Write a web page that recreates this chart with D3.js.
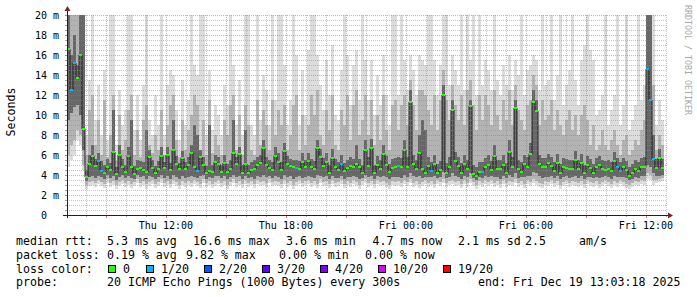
<!DOCTYPE html>
<html>
<head>
<meta charset="utf-8">
<script src="https://cdn.jsdelivr.net/npm/d3@7"></script>
<style>
  body { margin: 0; background: #fff; }
  svg { display: block; }
  text { font-family: "DejaVu Sans Mono", monospace; fill: #000; }
</style>
</head>
<body>
<svg id="chart" width="697" height="297"></svg>
<script>
// time window of the graph (9 minute bins)
const startTime = Date.UTC(2025, 11, 18, 7, 3, 18);
const endTime = Date.UTC(2025, 11, 19, 13, 3, 18);
const binMinutes = 9;

// median rtt per bin (ms)
const median = [
  16.6,12.5,15.2,13.7,16.0,8.6,3.8,5.1,5.9,4.9,
  5.4,4.4,4.2,4.8,4.5,6.3,4.1,6.0,4.8,4.3,
  5.9,4.8,4.1,4.6,4.7,4.5,4.3,5.8,4.7,4.2,
  4.6,5.9,4.7,6.0,4.5,6.5,5.1,4.6,5.7,4.6,
  5.0,6.2,4.8,4.4,5.8,5.0,4.2,4.4,4.3,5.3,
  5.1,4.3,5.2,4.3,4.6,6.2,5.1,6.1,4.2,5.1,
  4.2,4.5,4.6,5.0,5.2,6.7,5.0,4.7,4.5,5.9,
  5.3,4.5,6.4,5.1,4.9,4.8,4.7,4.6,5.3,4.8,
  5.4,4.8,4.6,6.7,5.8,4.9,5.3,4.2,5.7,4.8,
  4.5,5.1,4.4,4.7,4.9,4.8,5.1,4.8,4.2,6.5,
  4.9,6.7,4.2,5.0,4.6,6.1,5.0,4.3,4.7,4.8,
  4.9,4.8,6.5,4.8,11.3,5.1,4.6,6.2,4.6,4.2,
  4.9,4.4,5.1,4.2,4.5,12.0,4.2,4.8,10.5,5.4,
  4.9,4.2,5.1,4.6,10.9,4.1,3.9,4.3,4.3,4.8,
  5.0,4.5,5.9,4.6,4.6,5.0,4.2,6.3,4.8,10.7,
  4.6,4.3,5.1,4.8,6.1,11.3,10.4,5.1,4.8,4.8,
  5.2,4.9,4.4,5.2,4.2,4.8,4.7,4.6,4.6,5.5,
  4.6,5.2,4.2,5.0,4.7,4.2,4.8,5.0,4.6,4.5,
  4.6,4.4,5.4,4.8,4.4,4.8,4.5,3.9,4.2,4.6,
  4.4,4.8,4.8,14.6,11.5,5.6,4.7,5.7,4.7,null
];

// smoke per bin (ms): fastest ping, 10th pct, lower quartile, upper quartile, 90th pct, slowest ping
const pingMin = [
  4.8,5.5,6.0,7.5,7.0,4.5,2.6,2.9,3.0,2.8,
  3.1,2.9,2.7,3.2,2.8,3.0,2.6,2.9,3.1,2.8,
  3.0,2.7,2.9,3.2,2.8,3.0,2.6,2.9,3.1,2.7,
  2.9,3.2,2.8,3.0,2.7,3.1,2.9,2.6,3.0,2.8,
  3.0,2.8,3.1,2.9,2.7,3.2,2.8,3.0,2.7,2.9,
  3.1,2.8,3.0,2.6,2.9,3.2,2.8,3.0,2.7,3.1,
  2.8,3.0,2.7,3.1,2.9,3.0,2.8,3.2,2.9,3.0,
  2.9,2.7,3.1,2.8,3.0,2.6,2.9,3.1,2.8,3.0,
  3.1,2.8,3.0,2.7,3.2,2.9,3.0,2.7,3.1,2.8,
  2.9,3.1,2.7,3.0,2.8,3.1,2.9,2.6,3.0,3.2,
  2.8,3.0,2.7,3.1,2.9,3.0,2.8,2.6,3.0,2.9,
  3.0,2.8,3.1,2.9,3.2,2.8,3.0,2.7,2.9,3.1,
  2.8,3.0,2.7,3.1,2.9,3.2,2.8,3.0,3.1,2.9,
  3.0,2.7,3.1,2.8,3.2,2.9,2.6,3.0,2.8,3.1,
  2.9,3.1,2.8,3.0,2.7,3.1,2.8,3.0,2.9,3.2,
  2.8,3.0,2.7,3.1,2.9,3.2,3.0,2.8,2.7,3.0,
  2.9,3.1,2.8,3.0,2.6,2.9,3.1,2.8,3.0,2.9,
  2.8,3.0,2.7,3.1,2.9,2.8,3.0,2.7,2.9,3.1,
  2.9,2.7,3.0,2.8,3.1,2.9,2.7,2.6,2.8,3.0,
  2.9,3.1,3.0,3.6,3.5,3.0,3.2,3.3,3.4,null
];
const pingP10 = [
  6.0,7.0,7.5,8.5,8.0,5.0,3.0,3.3,3.4,3.2,
  3.5,3.3,3.1,3.6,3.2,3.4,3.0,3.3,3.5,3.2,
  3.4,3.1,3.3,3.6,3.2,3.4,3.1,3.3,3.5,3.1,
  3.3,3.6,3.2,3.4,3.1,3.5,3.3,3.0,3.4,3.2,
  3.4,3.2,3.5,3.3,3.1,3.6,3.2,3.4,3.1,3.3,
  3.5,3.2,3.4,3.0,3.3,3.6,3.2,3.4,3.1,3.5,
  3.2,3.4,3.1,3.5,3.3,3.4,3.2,3.6,3.3,3.4,
  3.3,3.1,3.5,3.2,3.4,3.0,3.3,3.5,3.2,3.4,
  3.5,3.2,3.4,3.1,3.6,3.3,3.4,3.1,3.5,3.2,
  3.3,3.5,3.1,3.4,3.2,3.5,3.3,3.0,3.4,3.6,
  3.2,3.4,3.1,3.5,3.3,3.4,3.2,3.0,3.4,3.3,
  3.4,3.2,3.5,3.3,3.6,3.2,3.4,3.1,3.3,3.5,
  3.2,3.4,3.1,3.5,3.3,3.6,3.2,3.4,3.5,3.3,
  3.4,3.1,3.5,3.2,3.6,3.3,3.0,3.4,3.2,3.5,
  3.3,3.5,3.2,3.4,3.1,3.5,3.2,3.4,3.3,3.6,
  3.2,3.4,3.1,3.5,3.3,3.6,3.4,3.2,3.1,3.4,
  3.3,3.5,3.2,3.4,3.0,3.3,3.5,3.2,3.4,3.3,
  3.2,3.4,3.1,3.5,3.3,3.2,3.4,3.1,3.3,3.5,
  3.3,3.1,3.4,3.2,3.5,3.3,3.1,3.0,3.2,3.4,
  3.3,3.5,3.4,4.2,4.0,3.5,3.5,3.6,3.7,null
];
const pingQ1 = [
  9.5,10.2,10.8,11.0,10.0,6.5,3.4,3.8,3.9,3.7,
  3.9,3.8,3.6,4.0,3.7,3.9,3.5,3.8,4.0,3.7,
  3.9,3.7,3.6,4.0,3.8,3.9,3.6,3.9,3.8,3.6,
  3.8,4.0,3.7,3.9,3.6,4.0,3.8,3.6,3.9,3.7,
  3.8,3.9,3.8,3.7,3.9,4.0,3.6,3.8,3.7,3.9,
  3.9,3.7,3.9,3.6,3.8,4.0,3.8,3.9,3.6,3.9,
  3.7,3.8,3.6,3.9,3.8,4.0,3.8,3.9,3.7,3.9,
  3.8,3.6,4.0,3.8,3.9,3.6,3.8,3.9,3.7,3.8,
  3.9,3.8,3.7,4.0,3.9,3.8,3.9,3.6,3.9,3.7,
  3.7,3.9,3.6,3.8,3.8,3.9,3.8,3.6,3.7,4.0,
  3.8,3.9,3.6,3.9,3.8,3.9,3.8,3.6,3.8,3.8,
  3.8,3.7,4.0,3.8,4.2,3.9,3.8,3.9,3.7,3.8,
  3.8,3.8,3.9,3.7,3.8,4.3,3.7,3.8,4.2,3.9,
  3.8,3.6,3.9,3.8,4.2,3.7,3.5,3.8,3.7,3.9,
  3.8,3.9,3.8,3.8,3.6,3.9,3.7,4.0,3.8,4.2,
  3.7,3.8,3.8,3.9,3.9,4.3,4.2,3.9,3.7,3.8,
  3.8,3.9,3.7,3.9,3.6,3.8,3.9,3.7,3.8,3.9,
  3.7,3.9,3.6,3.8,3.8,3.7,3.8,3.7,3.8,3.9,
  3.8,3.6,3.9,3.8,3.8,3.8,3.7,3.5,3.6,3.8,
  3.7,3.9,3.9,5.0,4.8,4.2,3.9,3.9,4.0,null
];
const pingQ3 = [
  20,16,18,15,20,20,4.5,6.0,7.0,5.6,
  6.2,5.4,5.0,5.6,5.2,10.5,4.8,7.0,5.6,5.0,
  6.8,9.5,4.9,5.5,5.4,5.3,8.5,6.5,5.5,4.9,
  5.4,6.8,5.3,6.8,5.2,9.5,5.9,5.2,6.4,5.3,
  5.8,7.0,9.0,8.0,6.5,5.8,4.9,9.0,5.0,6.0,
  5.8,5.0,6.0,5.1,5.5,9.5,5.8,6.8,5.0,8.5,
  5.0,5.3,5.5,5.8,6.0,7.5,5.8,5.5,5.3,6.8,
  6.2,5.3,7.2,5.9,5.6,5.5,5.5,5.4,6.2,5.5,
  6.2,5.6,5.4,7.5,6.6,5.7,6.2,5.0,6.6,5.6,
  5.3,6.0,5.2,5.5,5.8,5.6,7.0,5.6,5.0,7.5,
  5.8,7.6,5.0,5.9,5.5,7.0,5.9,5.1,5.6,5.7,
  5.8,5.7,7.5,5.8,12.5,6.0,5.5,8.0,9.5,8.5,
  5.8,5.3,6.0,5.1,5.4,13.0,5.2,5.8,11.5,6.3,
  5.8,5.2,6.0,5.5,11.5,5.0,4.8,5.3,5.3,5.7,
  6.0,5.4,7.0,5.5,5.5,6.0,5.2,7.5,5.8,11.5,
  5.5,5.3,6.0,5.8,7.2,12.5,11.5,6.0,5.7,5.7,
  6.1,5.8,5.3,6.1,5.1,5.7,5.6,5.5,5.5,6.4,
  5.5,6.1,5.0,5.9,5.6,5.1,5.7,5.9,5.5,5.4,
  5.5,5.3,6.3,5.7,5.3,5.7,5.4,4.8,5.1,5.5,
  5.3,5.7,5.8,20,20,8.0,5.6,6.6,5.6,null
];
const pingP90 = [
  20,20,20,20,20,20,6.0,10.5,12.0,7.0,
  9.5,6.0,11.5,5.8,8.0,12.0,5.5,10.0,6.5,7.5,
  10.5,12.0,6.0,8.5,5.8,9.5,11.0,7.0,6.2,8.0,
  6.5,10.5,6.0,9.0,11.0,12.0,7.5,5.8,9.5,6.5,
  8.5,10.0,12.0,11.0,6.5,9.5,6.0,11.5,6.2,8.0,
  7.0,6.0,9.5,8.0,11.0,12.0,6.5,10.0,6.0,11.0,
  9.0,6.5,6.0,11.5,7.0,10.5,9.0,6.5,11.5,8.0,
  10.5,9.0,11.0,6.5,8.0,11.0,12.0,6.5,10.0,7.0,
  9.0,12.0,10.0,12.5,8.0,7.0,10.5,8.5,12.0,7.0,
  6.5,10.5,9.0,12.0,7.5,11.0,12.5,8.0,9.5,12.0,
  8.0,11.5,7.0,10.0,7.5,12.0,8.5,6.5,11.0,11.5,
  8.5,11.0,12.0,9.0,13.5,11.0,8.5,12.5,12.5,12.0,
  10.5,9.0,12.0,8.5,11.5,14.5,11.5,9.5,13.0,11.0,
  9.5,12.0,9.0,12.5,13.5,11.0,8.5,12.0,9.5,12.0,
  11.0,9.0,12.5,10.0,8.5,11.5,9.5,12.5,9.0,13.0,
  10.5,9.5,8.5,11.0,11.5,14.0,13.0,9.0,11.5,9.5,
  10.0,11.5,8.5,10.5,9.0,8.0,9.5,10.5,8.5,10.0,
  8.0,10.0,11.0,9.5,7.0,9.0,6.5,7.0,8.5,7.0,
  6.5,7.5,8.5,7.0,6.0,7.5,8.0,6.0,6.5,7.5,
  7.0,8.5,9.5,20,20,13.0,6.5,8.0,7.0,null
];
const pingMax = [
  20,20,20,20,20,20,8.0,13.5,20,9.5,
  13.0,8.0,14.5,7.5,20,20,7.0,12.5,9.0,10.5,
  20,20,8.5,12.0,7.5,13.0,20,9.5,8.0,12.0,
  9.0,20,8.0,13.0,14.5,14.0,10.5,7.5,13.5,9.0,
  11.5,20,15.0,14.0,20,20,8.0,14.5,8.5,11.0,
  10.0,8.0,13.0,11.0,20,15.0,9.0,13.5,8.0,20,
  20,9.0,8.0,20,9.5,14.0,12.5,9.0,20,11.5,
  20,20,15.0,9.0,11.5,20,16.0,9.0,14.5,10.0,
  16.5,20,20,16.0,13.0,10.5,15.5,12.0,17.0,10.0,
  9.5,14.5,20,16.0,11.0,15.0,16.5,11.5,20,15.5,
  11.5,15.5,10.0,14.0,11.0,16.0,12.0,9.0,20,20,
  12.0,20,15.5,12.5,16.0,14.5,12.0,16.0,15.5,15.0,
  20,20,15.5,12.0,15.0,20,20,13.0,16.0,14.5,
  13.0,20,12.5,20,15.5,20,12.0,20,13.0,15.5,
  14.5,12.5,20,13.5,12.0,15.0,13.0,16.0,12.5,15.5,
  14.0,20,12.0,14.5,15.0,16.0,15.5,12.5,20,13.0,
  13.5,20,11.5,14.0,20,11.0,13.0,14.5,20,13.5,
  11.0,15.5,17.0,20,16.5,15.5,10.0,10.5,12.0,20,
  9.0,10.5,12.0,20,9.0,11.0,20,8.5,9.5,11.0,
  20,11.5,13.0,20,20,20,9.0,11.5,9.5,null
];

// bins that lost pings (index, pings lost out of 20)
const lossBin = [1, 2, 10, 11, 43, 76, 91, 110, 121, 138, 183, 184, 193, 194, 195];
const lossLost = [1, 1, 1, 1, 1, 1, 1, 1, 1, 1, 1, 1, 1, 1, 1];

// loss color legend
const lossLabels = ["0", "1/20", "2/20", "3/20", "4/20", "10/20", "19/20"];
const lossSteps = [0, 1, 2, 3, 4, 10, 19];
const lossColors = ["#26ff00", "#00b8ff", "#0059ff", "#5e00ff", "#7e00ff", "#dd00ff", "#ff0000"];

// legend text
const rttStats = ["median rtt:", "5.3 ms avg", "16.6 ms max", "3.6 ms min", "4.7 ms now", "2.1 ms sd", "2.5", "am/s"];
const lossStats = ["packet loss:", "0.19 % avg", "9.82 % max", "0.00 % min", "0.00 % now"];
const probeText = ["probe:", "20 ICMP Echo Pings (1000 Bytes) every 300s", "end: Fri Dec 19 13:03:18 2025"];

const yTicks = [0, 2, 4, 6, 8, 10, 12, 14, 16, 18, 20];

const svg = d3.select("#chart");
const plotLeft = 67, plotRight = 667, plotTop = 15, plotBottom = 215;

const x = d3.scaleUtc().domain([startTime, endTime]).range([plotLeft, plotRight]);
const y = d3.scaleLinear().domain([0, 20]).range([plotBottom, plotTop]).clamp(true);

const binStart = i => new Date(startTime + i * binMinutes * 60000);
const bins = d3.range(median.length).filter(i => median[i] !== null);

const lossOf = {};
lossBin.forEach((b, k) => { lossOf[b] = lossLost[k]; });
function lossColor(lost) {
    let c = lossColors[0];
    lossSteps.forEach((s, k) => { if (lost >= s) c = lossColors[k]; });
    return c;
}

svg.append("rect").attr("width", 697).attr("height", 297).attr("fill", "#fff");

// smoke layers, lightest first
const layers = [
    { lo: pingMin, hi: pingMax, color: "#dcdcdc" },
    { lo: pingP10, hi: pingP90, color: "#b3b3b3" },
    { lo: pingQ1, hi: pingQ3, color: "#676767" }
];
layers.forEach(layer => {
    svg.append("g").selectAll("rect")
        .data(bins)
        .enter().append("rect")
        .attr("x", i => x(binStart(i)))
        .attr("width", i => x(binStart(i + 1)) - x(binStart(i)))
        .attr("y", i => y(layer.hi[i]))
        .attr("height", i => Math.max(0, y(layer.lo[i]) - y(layer.hi[i])))
        .attr("fill", layer.color)
        .attr("shape-rendering", "crispEdges");
});

// median: dark risers between bins, coloured step per bin
const risers = bins.filter(i => median[i + 1] != null);
svg.append("g").selectAll("line")
    .data(risers)
    .enter().append("line")
    .attr("x1", i => x(binStart(i + 1)))
    .attr("x2", i => x(binStart(i + 1)))
    .attr("y1", i => y(median[i]))
    .attr("y2", i => y(median[i + 1]))
    .attr("stroke", "#202020")
    .attr("stroke-width", 1);

svg.append("g").selectAll("rect")
    .data(bins)
    .enter().append("rect")
    .attr("x", i => x(binStart(i)))
    .attr("width", i => x(binStart(i + 1)) - x(binStart(i)))
    .attr("y", i => y(median[i]) - 1)
    .attr("height", 2)
    .attr("fill", i => lossColor(lossOf[i] || 0))
    .attr("shape-rendering", "crispEdges");

// grid
const grid = svg.append("g").attr("shape-rendering", "crispEdges");
const minorY = d3.range(0, 20.01, 0.5).filter(v => v % 2 !== 0);
grid.selectAll(".hmin").data(minorY).enter().append("line")
    .attr("x1", plotLeft).attr("x2", plotRight)
    .attr("y1", v => Math.round(y(v)) + 0.5).attr("y2", v => Math.round(y(v)) + 0.5)
    .attr("stroke", "rgba(143,143,143,0.5)").attr("stroke-dasharray", "1,1");
grid.selectAll(".hmaj").data(yTicks.slice(1)).enter().append("line")
    .attr("x1", plotLeft).attr("x2", plotRight)
    .attr("y1", v => Math.round(y(v)) + 0.5).attr("y2", v => Math.round(y(v)) + 0.5)
    .attr("stroke", "rgba(222,79,79,0.5)").attr("stroke-dasharray", "1,1");

const hours = d3.utcHour.range(new Date(startTime), new Date(endTime));
grid.selectAll(".vline").data(hours).enter().append("line")
    .attr("x1", d => Math.round(x(d)) + 0.5).attr("x2", d => Math.round(x(d)) + 0.5)
    .attr("y1", plotTop).attr("y2", plotBottom)
    .attr("stroke", d => d.getUTCHours() % 3 === 0 ? "rgba(222,79,79,0.5)" : "rgba(143,143,143,0.5)")
    .attr("stroke-dasharray", "1,1");

// ticks on the axes
grid.selectAll(".xt").data(hours).enter().append("line")
    .attr("x1", d => Math.round(x(d)) + 0.5).attr("x2", d => Math.round(x(d)) + 0.5)
    .attr("y1", plotBottom).attr("y2", d => d.getUTCHours() % 3 === 0 ? plotBottom + 3 : plotBottom + 2)
    .attr("stroke", d => d.getUTCHours() % 3 === 0 ? "rgba(222,79,79,0.8)" : "rgba(143,143,143,0.8)");
grid.selectAll(".yt").data(d3.range(0, 20.01, 0.5)).enter().append("line")
    .attr("x1", plotLeft - 2).attr("x2", plotLeft)
    .attr("y1", v => Math.round(y(v)) + 0.5).attr("y2", v => Math.round(y(v)) + 0.5)
    .attr("stroke", v => v % 2 === 0 ? "rgba(222,79,79,0.8)" : "rgba(143,143,143,0.8)");

// axes
svg.append("line").attr("x1", plotLeft - 4).attr("x2", plotRight + 2)
    .attr("y1", plotBottom + 0.5).attr("y2", plotBottom + 0.5)
    .attr("stroke", "#1f1f1f").attr("shape-rendering", "crispEdges");
svg.append("line").attr("x1", plotLeft + 0.5).attr("x2", plotLeft + 0.5)
    .attr("y1", plotBottom + 3).attr("y2", plotTop - 4)
    .attr("stroke", "#1f1f1f").attr("shape-rendering", "crispEdges");
svg.append("path")
    .attr("d", `M${plotRight + 1},${plotBottom - 2.5} L${plotRight + 6},${plotBottom + 0.5} L${plotRight + 1},${plotBottom + 3.5} Z`)
    .attr("fill", "#802020");
svg.append("path")
    .attr("d", `M${plotLeft - 2.5},${plotTop - 4} L${plotLeft + 0.5},${plotTop - 9} L${plotLeft + 3.5},${plotTop - 4} Z`)
    .attr("fill", "#802020");

// y labels
const fmtTime = d3.utcFormat("%a %H:%M");
svg.append("g").selectAll("text").data(yTicks).enter().append("text")
    .attr("x", 47).attr("y", v => y(v) + 3.5)
    .attr("text-anchor", "end").attr("font-size", 10)
    .text(v => v);
svg.append("g").selectAll("text").data(yTicks.slice(1)).enter().append("text")
    .attr("x", 53).attr("y", v => y(v) + 3.5)
    .attr("font-size", 10)
    .text("m");

// x labels
svg.append("g").selectAll("text")
    .data(hours.filter(d => d.getUTCHours() % 6 === 0))
    .enter().append("text")
    .attr("x", d => x(d)).attr("y", 229)
    .attr("text-anchor", "middle").attr("font-size", 10)
    .text(d => fmtTime(d));

svg.append("text")
    .attr("transform", "translate(15,112) rotate(-90)")
    .attr("text-anchor", "middle").attr("font-size", 11.6)
    .text("Seconds");

svg.append("text")
    .attr("transform", "translate(685,5) rotate(90)")
    .attr("font-size", 8.3).style("fill", "#a8a8a8")
    .text("RRDTOOL / TOBI OETIKER");

// legend
const rttX = [16, 107, 193, 286, 372.5, 458, 525, 579];
const lossX = [16, 107, 186, 279, 365];
const probeX = [16, 107, 478];
const legend = svg.append("g").attr("font-size", 11.6);
rttStats.forEach((t, k) => legend.append("text").attr("x", rttX[k]).attr("y", 245).text(t));
lossStats.forEach((t, k) => legend.append("text").attr("x", lossX[k]).attr("y", 258.7).text(t));
probeText.forEach((t, k) => legend.append("text").attr("x", probeX[k]).attr("y", 286.2).text(t));
legend.append("text").attr("x", 16).attr("y", 272.5).text("loss color:");

const boxX = [108, 146, 204, 262, 320, 378, 443];
lossLabels.forEach((t, k) => {
    legend.append("rect")
        .attr("x", boxX[k] + 0.5).attr("y", 265.5)
        .attr("width", 7).attr("height", 7)
        .attr("fill", lossColors[k]).attr("stroke", "#000")
        .attr("shape-rendering", "crispEdges");
    legend.append("text").attr("x", boxX[k] + 15).attr("y", 272.5).text(t);
});
</script>
</body>
</html>
